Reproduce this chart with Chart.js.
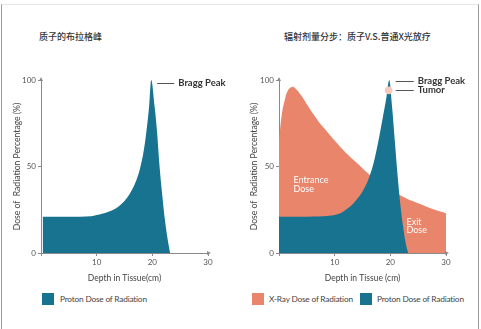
<!DOCTYPE html>
<html>
<head>
<meta charset="utf-8">
<script src="https://cdn.jsdelivr.net/npm/chart.js@4/dist/chart.umd.min.js"></script>
<style>
  body { margin: 0; width: 481px; height: 329px; overflow: hidden; background: #fff; position: relative; font-family: Lato, "Noto Sans CJK SC", sans-serif; }
  .frame { position: absolute; left: 1px; top: 4px; width: 476px; height: 340px; border-left: 1px solid #9a9a9a; border-right: 1px solid #9a9a9a; border-top: 1px solid #e6e6e6; }
  .title { position: absolute; top: 31px; font-size: 9px; line-height: 12px; font-weight: 500; color: #333; font-family: "Noto Sans CJK SC", sans-serif; white-space: nowrap; }
  .box { position: absolute; top: 50px; width: 240px; height: 235px; }
  .legend { position: absolute; top: 293px; height: 12px; font-size: 8.3px; line-height: 12px; letter-spacing: -0.2px; color: #444; white-space: nowrap; }
  .sw { position: absolute; top: 0; width: 12px; height: 12px; }
  .lt { position: absolute; top: 0; }
</style>
</head>
<body>
<div class="frame"></div>
<div class="title" style="left:39px">质子的布拉格峰</div>
<div class="title" style="left:284px">辐射剂量分步：质子V.S.普通X光放疗</div>
<div class="box" style="left:0"><canvas id="left"></canvas></div>
<div class="box" style="left:240px"><canvas id="right"></canvas></div>
<div class="legend" style="left:0;width:240px">
  <span class="sw" style="left:42px;background:#17738f"></span><span class="lt" style="left:60px">Proton Dose of Radiation</span>
</div>
<div class="legend" style="left:0;width:481px">
  <span class="sw" style="left:252px;background:#e9856b"></span><span class="lt" style="left:269px">X-Ray Dose of Radiation</span>
  <span class="sw" style="left:360px;background:#17738f"></span><span class="lt" style="left:377px">Proton Dose of Radiation</span>
</div>
<script>
// depth in tissue (cm) and dose (%)
const protonDepthA = [0.3, 5, 9, 10, 11, 12, 13, 14, 15, 16, 17, 17.8, 18.5, 19, 19.4, 19.8, 20.4, 20.8, 21.3, 21.8, 22.3, 22.8, 23.2];
const protonDoseA  = [21, 21, 21.3, 22, 22.7, 23.7, 25, 27, 30, 34.5, 41, 49, 60, 72, 84, 100, 85, 72, 50, 33, 18, 7, 0];

const protonDepthB = [0, 5, 9, 11, 12, 13, 14, 15, 16, 17, 18, 18.8, 19.3, 19.8, 20.3, 20.8, 21.3, 21.8, 22.3, 22.8, 23.2];
const protonDoseB  = [21, 21, 21.5, 23, 25, 27.5, 31, 35.5, 42, 52, 67, 81, 90, 100, 85, 65, 45, 28, 15, 5, 0];

const xrayDepth = [0, 0.5, 1, 1.6, 2.3, 3, 4, 5, 6, 7, 8, 10, 12, 14, 16, 18, 20, 22, 24, 26, 28, 30];
const xrayDose  = [65, 80, 88, 94, 96, 95, 91, 86, 81, 76.5, 72.5, 65, 58, 52, 46, 41, 36.5, 33, 30, 27.5, 25, 23];

const tumorDepth = [19.7];
const tumorDose  = [94];

const depthTicks = [0, 10, 20, 30];
const doseTicks = [0, 50, 100];

const BLUE = '#17738f';
const ORANGE = '#e9856b';
const AXIS = '#8a8a8a';

function pts(xs, ys) {
  return xs.map((x, i) => ({ x: x, y: ys[i] }));
}

function area(label, xs, ys, color, smooth) {
  const ds = {
    label: label,
    data: pts(xs, ys),
    backgroundColor: color,
    borderWidth: 0,
    pointRadius: 0,
    fill: 'origin'
  };
  if (smooth) ds.tension = 0.4;
  else ds.cubicInterpolationMode = 'monotone';
  return ds;
}

// arrows on the axes + text notes placed from data values
const notesPlugin = {
  id: 'notes',
  afterDraw(chart, args, opts) {
    const ctx = chart.ctx;
    const xs = chart.scales.x, ys = chart.scales.y;
    ctx.save();
    ctx.fillStyle = AXIS;
    ctx.beginPath();
    ctx.moveTo(xs.left - 2, ys.top + 1);
    ctx.lineTo(xs.left, ys.top - 3);
    ctx.lineTo(xs.left + 2, ys.top + 1);
    ctx.fill();
    ctx.beginPath();
    ctx.moveTo(xs.right - 1, ys.bottom - 2);
    ctx.lineTo(xs.right + 3, ys.bottom);
    ctx.lineTo(xs.right - 1, ys.bottom + 2);
    ctx.fill();

    (opts.items || []).forEach(n => {
      const px = xs.getPixelForValue(n.x) + (n.dx || 0);
      const py = ys.getPixelForValue(n.y) + (n.dy || 0);
      ctx.font = n.font;
      ctx.fillStyle = n.color;
      ctx.textBaseline = 'middle';
      ctx.textAlign = 'left';
      if (n.line) {
        ctx.strokeStyle = '#555';
        ctx.lineWidth = 1;
        ctx.beginPath();
        ctx.moveTo(px + n.line[0], Math.round(py) + 0.5);
        ctx.lineTo(px + n.line[1], Math.round(py) + 0.5);
        ctx.stroke();
      }
      n.text.forEach((t, i) => ctx.fillText(t, px, py + i * 8.5));
    });
    ctx.restore();
  }
};

function makeChart(id, datasets, yWidth, pad, xTitle, items) {
  return new Chart(document.getElementById(id), {
    type: 'line',
    data: { datasets: datasets },
    plugins: [notesPlugin],
    options: {
      responsive: true,
      maintainAspectRatio: false,
      animation: false,
      layout: { padding: pad },
      plugins: {
        legend: { display: false },
        tooltip: { enabled: false },
        notes: { items: items }
      },
      scales: {
        x: {
          type: 'linear',
          min: 0,
          max: 30,
          afterBuildTicks: s => { s.ticks = depthTicks.map(v => ({ value: v })); },
          ticks: {
            callback: v => v === 0 ? '' : v,
            color: '#555',
            font: { family: 'Lato', size: 8 },
            padding: 2,
            maxRotation: 0
          },
          grid: { drawOnChartArea: false, tickLength: 3, color: AXIS },
          border: { color: AXIS },
          title: {
            display: true,
            text: xTitle,
            color: '#444',
            font: { family: 'Lato', size: 8.5 },
            padding: { top: 0, bottom: 2 }
          },
          afterFit: s => { s.height = 32; }
        },
        y: {
          min: 0,
          max: 100,
          afterBuildTicks: s => { s.ticks = doseTicks.map(v => ({ value: v })); },
          ticks: {
            color: '#555',
            font: { family: 'Lato', size: 8 },
            padding: 2
          },
          grid: { drawOnChartArea: false, tickLength: 3, color: AXIS },
          border: { color: AXIS },
          title: {
            display: true,
            text: 'Dose of  Radiation Percentage (%)',
            color: '#444',
            font: { family: 'Lato', size: 8.6 },
            padding: { top: 0, bottom: 0 }
          },
          afterFit: s => { s.width = yWidth; }
        }
      }
    }
  });
}

const peakFont = 'bold 9.5px Lato';
const doseFont = '9px Lato';

makeChart('left',
  [area('Proton Dose of Radiation', protonDepthA, protonDoseA, BLUE)],
  29,
  { left: 12, top: 30, right: 32, bottom: 0 },
  'Depth in Tissue(cm)',
  [
    { x: 19.8, y: 100, dx: 27, dy: 3, text: ['Bragg Peak'], font: peakFont, color: '#333', line: [-21, -4] }
  ]
);

makeChart('right',
  [
    {
      label: 'Tumor',
      data: pts(tumorDepth, tumorDose),
      showLine: false,
      pointRadius: 3.8,
      pointBackgroundColor: '#f6cbbb',
      pointBorderWidth: 0
    },
    area('Proton Dose of Radiation', protonDepthB, protonDoseB, BLUE),
    area('X-Ray Dose of Radiation', xrayDepth, xrayDose, ORANGE, true)
  ],
  30.4,
  { left: 8.6, top: 30, right: 34, bottom: 0 },
  'Depth in Tissue (cm)',
  [
    { x: 19.8, y: 100, dx: 28.5, dy: 1, text: ['Bragg Peak'], font: peakFont, color: '#333', line: [-22, -4] },
    { x: 19.8, y: 100, dx: 28.5, dy: 10, text: ['Tumor'], font: peakFont, color: '#333', line: [-22, -4] },
    { x: 2.6, y: 42, text: ['Entrance', 'Dose'], font: doseFont, color: '#fff' },
    { x: 22.9, y: 18, text: ['Exit', 'Dose'], font: doseFont, color: '#fff' }
  ]
);
</script>
</body>
</html>
